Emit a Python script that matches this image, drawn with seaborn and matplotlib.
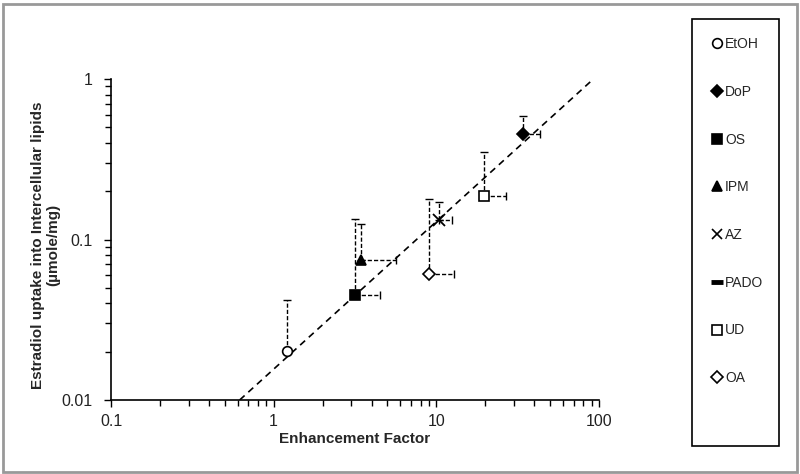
import matplotlib
matplotlib.use("Agg")
import matplotlib.pyplot as plt
from matplotlib.lines import Line2D
from matplotlib.patches import Rectangle
from matplotlib.ticker import LogLocator, FixedLocator, FixedFormatter, NullFormatter
import seaborn as sns
import numpy as np

# data
solvents = ['EtOH', 'DoP', 'OS', 'IPM', 'AZ', 'PADO', 'UD', 'OA']
enh_factor = [1.2, 34.0, 3.18, 3.43, 10.4, np.nan, 19.5, 9.0]
uptake = [0.0202, 0.454, 0.0451, 0.0745, 0.132, np.nan, 0.1875, 0.061]
ef_upper = [1.2, 43.2, 4.53, 5.62, 12.4, np.nan, 26.9, 12.8]
uptake_upper = [0.042, 0.588, 0.1336, 0.125, 0.172, np.nan, 0.352, 0.18]
markers = ['o', 'D', 's', '^', 'x', '_', 's', 'D']
filled = [False, True, True, True, True, True, False, False]

trend_x = [0.618, 91.0]
trend_y = [0.01, 0.986]

sns.set_theme(style='white')
plt.rcParams['font.family'] = ['Liberation Sans', 'DejaVu Sans']

fig = plt.figure(figsize=(8, 4.74), dpi=100)
ax = fig.add_axes([111 / 800, 74 / 474, 488 / 800, 321 / 474])

# trend line
sns.lineplot(x=trend_x, y=trend_y, ax=ax, color='black', linestyle=(0, (4, 3)),
             linewidth=1.2, estimator=None, sort=False)

# error bars (upper / right only, dashed)
for i in range(len(solvents)):
    if np.isnan(enh_factor[i]):
        continue
    xe = ef_upper[i] - enh_factor[i]
    ye = uptake_upper[i] - uptake[i]
    eb = ax.errorbar([enh_factor[i]], [uptake[i]],
                     xerr=[[0], [xe]] if xe > 0 else None,
                     yerr=[[0], [ye]], fmt='none', ecolor='black',
                     elinewidth=1, capsize=3, capthick=1)
    for lc in eb[2]:
        lc.set_linestyle((0, (3, 1.5)))

# points
for i in range(len(solvents)):
    if np.isnan(enh_factor[i]):
        continue
    m = markers[i]
    if m == 'x':
        ax.plot(enh_factor[i], uptake[i], marker='x', color='black', ms=8, mew=1.3, ls='none')
    else:
        ax.plot(enh_factor[i], uptake[i], marker=m, ls='none', ms=7 if m != 'D' else 6,
                mfc='black' if filled[i] else 'white', mec='black', mew=1.2)

ax.set_xscale('log')
ax.set_yscale('log')
ax.set_xlim(0.1, 100)
ax.set_ylim(0.01, 1)

ax.xaxis.set_major_locator(FixedLocator([0.1, 1, 10, 100]))
ax.xaxis.set_major_formatter(FixedFormatter(['0.1', '1', '10', '100']))
ax.yaxis.set_major_locator(FixedLocator([0.01, 0.1, 1]))
ax.yaxis.set_major_formatter(FixedFormatter(['0.01', '0.1', '1']))
ax.xaxis.set_minor_locator(LogLocator(base=10, subs=np.arange(2, 10)))
ax.yaxis.set_minor_locator(LogLocator(base=10, subs=np.arange(2, 10)))
ax.xaxis.set_minor_formatter(NullFormatter())
ax.yaxis.set_minor_formatter(NullFormatter())
ax.tick_params(which='both', direction='out', color='black', width=1,
               bottom=True, left=True, labelsize=11.5, labelcolor='#222222')
ax.tick_params(which='major', length=5)
ax.tick_params(axis='x', which='major', pad=5)
ax.tick_params(axis='y', which='major', pad=8)
ax.tick_params(which='minor', length=4)

for s in ['top', 'right']:
    ax.spines[s].set_visible(False)
for s in ['left', 'bottom']:
    ax.spines[s].set_color('black')
    ax.spines[s].set_linewidth(1.2)

ax.set_xlabel('Enhancement Factor', fontsize=11, fontweight='bold', labelpad=2)
ax.set_ylabel('Estradiol uptake into Intercellular lipids\n(\u00b5mole/mg)',
              fontsize=11, fontweight='bold', linespacing=1.1)
ax.yaxis.set_label_coords(-0.105, 0.483)

# legend box
fig.patches.append(Rectangle((692 / 800, 28 / 474), 87 / 800, 427 / 474,
                             transform=fig.transFigure, fill=False,
                             edgecolor='black', linewidth=1.2))
handles = []
for i, name in enumerate(solvents):
    m = markers[i]
    if m == '_':
        h = Line2D([], [], marker='_', ls='none', color='black', ms=8, mew=3.5)
    elif m == 'x':
        h = Line2D([], [], marker='x', ls='none', color='black', ms=7, mew=1.2)
    else:
        h = Line2D([], [], marker=m, ls='none', ms=7 if m != 'D' else 6,
                   mfc='black' if filled[i] else 'white', mec='black', mew=1.2)
    handles.append(h)
fig.legend(handles, solvents, loc='upper left', bbox_to_anchor=(711 / 800, 1 - 37 / 474),
           frameon=False, fontsize=10, labelspacing=2.43, handlelength=0.8,
           handletextpad=0.2, borderaxespad=0, borderpad=0)

# outer grey frame
fig.patches.append(Rectangle((2.5 / 800, 2.5 / 474), 794 / 800, 468 / 474,
                             transform=fig.transFigure, fill=False,
                             edgecolor='#999999', linewidth=2))

fig.savefig('out.png', dpi=100)
